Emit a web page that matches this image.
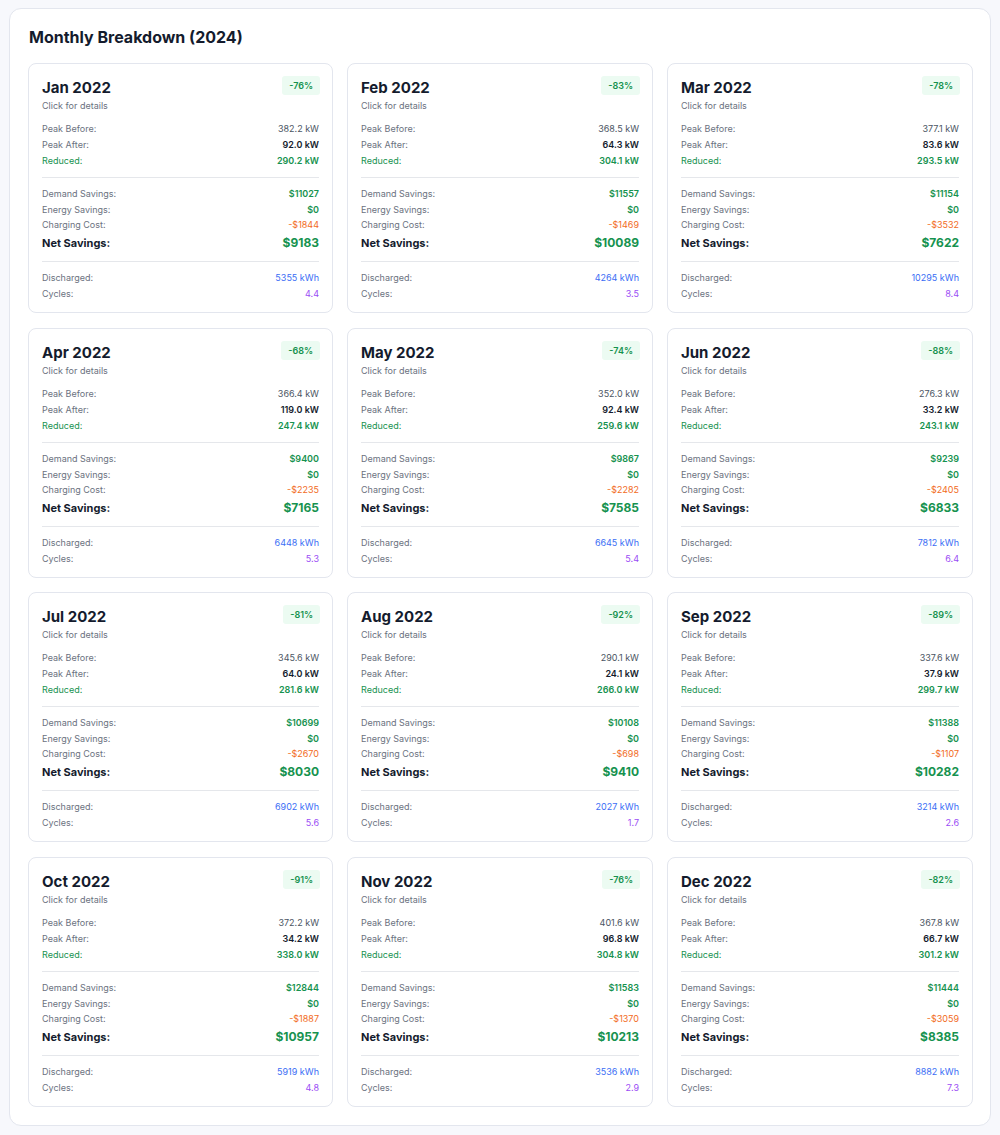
<!DOCTYPE html>
<html><head><meta charset="utf-8">
<script src="https://cdn.jsdelivr.net/npm/chart.js"></script>
<style>
body{margin:0;background:#f7f8fc;font-family:Inter,"Noto Sans",sans-serif;color:#111827;}
#wrap{position:absolute;left:9px;top:8px;width:982px;height:1118px;background:#fff;border:1px solid #e3e6ee;border-radius:12px;box-sizing:border-box;}
h1{position:absolute;left:19px;top:18px;margin:0;font-size:16px;font-weight:700;color:#141b2d;}
#grid{position:absolute;left:18px;top:54px;display:grid;grid-template-columns:305px 306px 306px;column-gap:14px;row-gap:14.5px;}
.card{height:250px;border:1px solid #e3e6ee;border-radius:8px;box-sizing:border-box;padding:0 13px;position:relative;}
.t{position:absolute;left:13px;top:14px;font-size:15px;font-weight:700;color:#141b2d;}
.b{position:absolute;right:12px;top:12px;background:#ecfbf2;color:#16924f;font-size:9px;font-weight:600;padding:4px 7px;border-radius:3px;}
.s{position:absolute;left:13px;top:36px;font-size:9px;color:#6b7280;}
.r{position:absolute;left:13px;right:13px;display:flex;justify-content:space-between;font-size:9px;color:#6b7280;line-height:12px;}
.hr{position:absolute;left:13px;right:13px;height:1px;background:#e5e7eb;}
.n{font-size:11px;font-weight:700;color:#141b2d;}
.nv{font-size:12px;font-weight:700;color:#16924f}
</style></head><body>
<div id="wrap"><h1>Monthly Breakdown (2024)</h1><div id="grid"></div></div>
<canvas id="c" width="1" height="1" style="display:none"></canvas>
<script>
const months=["Jan 2022","Feb 2022","Mar 2022","Apr 2022","May 2022","Jun 2022","Jul 2022","Aug 2022","Sep 2022","Oct 2022","Nov 2022","Dec 2022"];
const pct=[-76,-83,-78,-68,-74,-88,-81,-92,-89,-91,-76,-82];
const peakBefore=[382.2,368.5,377.1,366.4,352.0,276.3,345.6,290.1,337.6,372.2,401.6,367.8];
const peakAfter=[92.0,64.3,83.6,119.0,92.4,33.2,64.0,24.1,37.9,34.2,96.8,66.7];
const reduced=[290.2,304.1,293.5,247.4,259.6,243.1,281.6,266.0,299.7,338.0,304.8,301.2];
const demand=[11027,11557,11154,9400,9867,9239,10699,10108,11388,12844,11583,11444];
const energy=[0,0,0,0,0,0,0,0,0,0,0,0];
const charging=[1844,1469,3532,2235,2282,2405,2670,698,1107,1887,1370,3059];
const net=[9183,10089,7622,7165,7585,6833,8030,9410,10282,10957,10213,8385];
const discharged=[5355,4264,10295,6448,6645,7812,6902,2027,3214,5919,3536,8882];
const cycles=[4.4,3.5,8.4,5.3,5.4,6.4,5.6,1.7,2.6,4.8,2.9,7.3];
const grid=document.getElementById('grid');
function row(top,l,v,lc,vc){return `<div class="r" style="top:${top}px"><span style="${lc||''}">${l}</span><span style="${vc}">${v}</span></div>`;}
months.forEach((m,i)=>{
 let h=`<div class="t">${m}</div><div class="b">${pct[i]}%</div><div class="s">Click for details</div>`;
 h+=row(59,'Peak Before:',peakBefore[i].toFixed(1)+' kW','','color:#4b5563');
 h+=row(75,'Peak After:',peakAfter[i].toFixed(1)+' kW','','color:#141b2d;font-weight:600');
 h+=row(91,'Reduced:',reduced[i].toFixed(1)+' kW','color:#16924f','color:#16924f;font-weight:600');
 h+=`<div class="hr" style="top:113px"></div>`;
 h+=row(124,'Demand Savings:','$'+demand[i],'','color:#16924f;font-weight:600');
 h+=row(140,'Energy Savings:','$'+energy[i],'','color:#16924f;font-weight:600');
 h+=row(155,'Charging Cost:','-$'+charging[i],'','color:#f26b1d');
 h+=`<div class="r" style="top:172px;line-height:14px"><span class="n">Net Savings:</span><span class="nv">$${net[i]}</span></div>`;
 h+=`<div class="hr" style="top:197px"></div>`;
 h+=row(208,'Discharged:',discharged[i]+' kWh','','color:#3b6ef5');
 h+=row(224,'Cycles:',cycles[i].toFixed(1),'','color:#9b4df5');
 const d=document.createElement('div');d.className='card';d.innerHTML=h;grid.appendChild(d);
});
</script></body></html>
